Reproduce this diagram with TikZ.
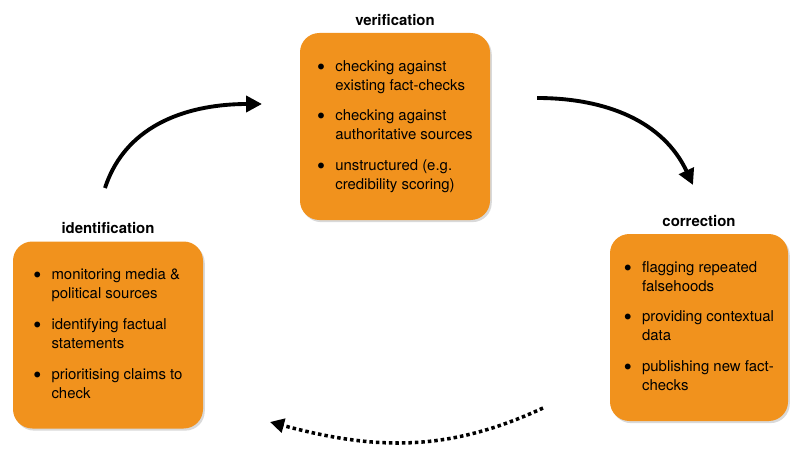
\documentclass[tikz,border=0pt]{standalone}
\usepackage{fontspec}
\setmainfont{TeX Gyre Heros}
\usetikzlibrary{arrows.meta}
\usetikzlibrary{positioning}
\usetikzlibrary{shadows}
\definecolor{orange1}{RGB}{241, 146, 29}
\newcommand{\stagebullet}{\raisebox{0.5pt}{$\bullet$}}

\tikzset{
  stagebox/.style={rectangle, rounded corners=11pt, fill=orange1, minimum width=#1,
    minimum height=3.74cm, align=left, inner sep=0pt,
    drop shadow={shadow xshift=1pt, shadow yshift=-1.2pt, opacity=.3},
    font=\fontsize{8.5}{10.8}\selectfont},
  stagetitle/.style={font=\fontsize{8.5}{10}\selectfont\bfseries, inner sep=1pt},
  cyclearrow/.style={line width=2.2pt, -{Triangle[length=9pt,width=9pt]}},
  backarrow/.style={line width=2pt, dash pattern=on 2pt off 1.7pt,
    -{Triangle[length=8pt,width=8pt]}}
}

\begin{document}
\begin{tikzpicture}
  \useasboundingbox (0,0) rectangle (15.8,9);

  \node[stagebox=3.8cm] (verbox) at (7.9,6.47) {%
    \begin{tabular}{@{}l@{\hspace{6pt}}l@{}}
      \stagebullet & checking against\\
                   & existing fact-checks\\[6.7pt]
      \stagebullet & checking against\\
                   & authoritative sources\\[6.7pt]
      \stagebullet & unstructured (e.g.\\
                   & credibility scoring)
    \end{tabular}};
  \node[stagebox=3.8cm] (idbox) at (2.16,2.3) {%
    \begin{tabular}{@{}l@{\hspace{6pt}}l@{}}
      \stagebullet & monitoring media \&\\
                   & political sources\\[6.7pt]
      \stagebullet & identifying factual\\
                   & statements\\[6.7pt]
      \stagebullet & prioritising claims to\\
                   & check
    \end{tabular}};
  \node[stagebox=3.56cm] (corbox) at (13.98,2.45) {%
    \begin{tabular}{@{}l@{\hspace{6pt}}l@{}}
      \stagebullet & flagging repeated\\
                   & falsehoods\\[6.7pt]
      \stagebullet & providing contextual\\
                   & data\\[6.7pt]
      \stagebullet & publishing new fact-\\
                   & checks
    \end{tabular}};

  \node[stagetitle, above=3pt of verbox] (vertitle) {verification};
  \node[stagetitle, above=3pt of idbox] (idtitle) {identification};
  \node[stagetitle, above=3pt of corbox] (cortitle) {correction};

  % free ends of the cycle arrows
  \coordinate (a1) at (2.1,5.24);
  \coordinate (b1) at (5.24,6.92);
  \coordinate (a2) at (10.74,7.04);
  \coordinate (b2) at (13.86,5.3);
  \coordinate (a3) at (10.86,0.84);
  \coordinate (b3) at (5.4,0.56);

  \foreach \from/\to/\o/\i in {a1/b1/72/180, a2/b2/0/115}
    \draw[cyclearrow] (\from) to[out=\o,in=\i] (\to);
  \draw[backarrow] (a3) to[out=205,in=-15] (b3);
\end{tikzpicture}
\end{document}
